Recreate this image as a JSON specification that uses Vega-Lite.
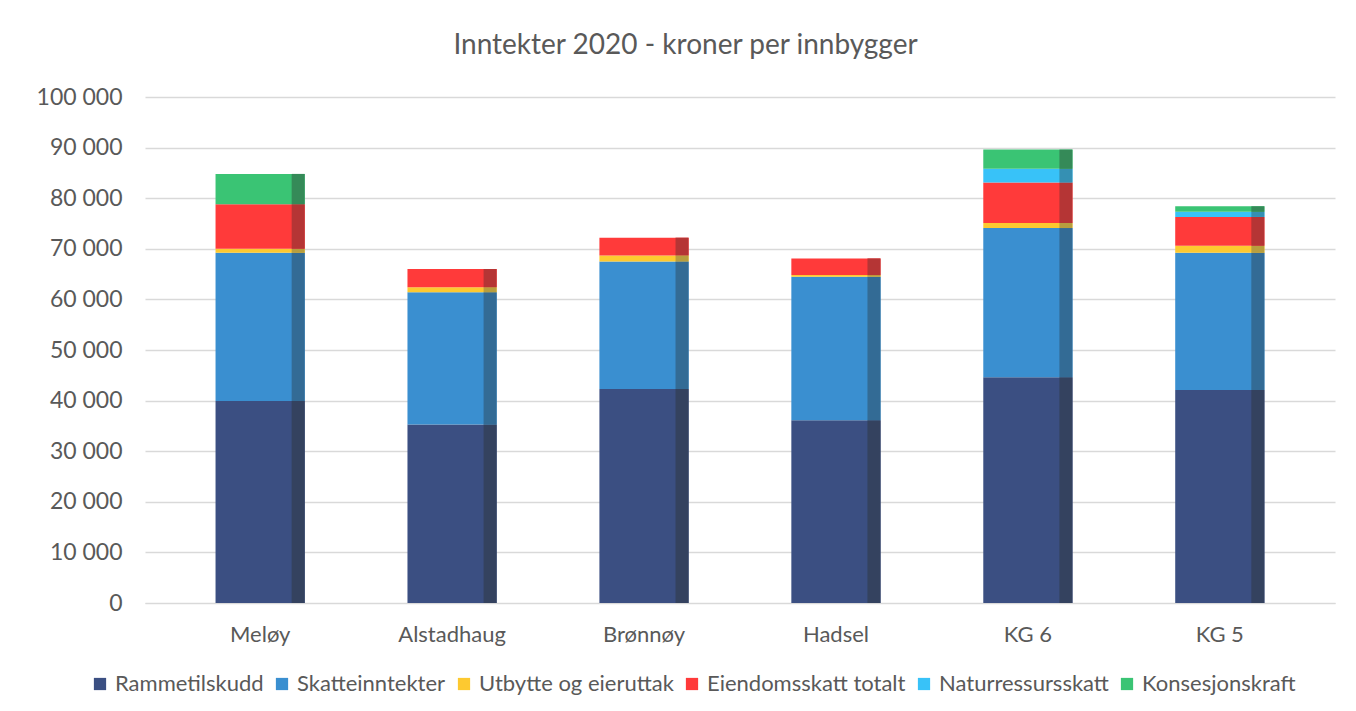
{
  "$schema": "https://vega.github.io/schema/vega-lite/v6.json",
  "width": 1356,
  "height": 711,
  "autosize": {"type": "fit", "contains": "padding"},
  "padding": {"left": 36, "right": 21, "top": 32, "bottom": 66},
  "background": "white",
  "title": {
    "text": "Inntekter 2020 -  kroner per innbygger",
    "font": "Lato",
    "fontSize": 28,
    "fontWeight": "normal",
    "color": "#595959",
    "anchor": "middle",
    "frame": "bounds",
    "offset": 26
  },
  "data": {
    "values": [
      {"kommune": "Meløy", "serie": "Rammetilskudd", "nr": 1, "verdi": 39900},
      {"kommune": "Meløy", "serie": "Skatteinntekter", "nr": 2, "verdi": 29300},
      {"kommune": "Meløy", "serie": "Utbytte og eieruttak", "nr": 3, "verdi": 800},
      {"kommune": "Meløy", "serie": "Eiendomsskatt totalt", "nr": 4, "verdi": 8800},
      {"kommune": "Meløy", "serie": "Naturressursskatt", "nr": 5, "verdi": 0},
      {"kommune": "Meløy", "serie": "Konsesjonskraft", "nr": 6, "verdi": 6000},
      {"kommune": "Alstadhaug", "serie": "Rammetilskudd", "nr": 1, "verdi": 35300},
      {"kommune": "Alstadhaug", "serie": "Skatteinntekter", "nr": 2, "verdi": 26100},
      {"kommune": "Alstadhaug", "serie": "Utbytte og eieruttak", "nr": 3, "verdi": 1000},
      {"kommune": "Alstadhaug", "serie": "Eiendomsskatt totalt", "nr": 4, "verdi": 3600},
      {"kommune": "Alstadhaug", "serie": "Naturressursskatt", "nr": 5, "verdi": 0},
      {"kommune": "Alstadhaug", "serie": "Konsesjonskraft", "nr": 6, "verdi": 0},
      {"kommune": "Brønnøy", "serie": "Rammetilskudd", "nr": 1, "verdi": 42300},
      {"kommune": "Brønnøy", "serie": "Skatteinntekter", "nr": 2, "verdi": 25200},
      {"kommune": "Brønnøy", "serie": "Utbytte og eieruttak", "nr": 3, "verdi": 1200},
      {"kommune": "Brønnøy", "serie": "Eiendomsskatt totalt", "nr": 4, "verdi": 3500},
      {"kommune": "Brønnøy", "serie": "Naturressursskatt", "nr": 5, "verdi": 0},
      {"kommune": "Brønnøy", "serie": "Konsesjonskraft", "nr": 6, "verdi": 0},
      {"kommune": "Hadsel", "serie": "Rammetilskudd", "nr": 1, "verdi": 36100},
      {"kommune": "Hadsel", "serie": "Skatteinntekter", "nr": 2, "verdi": 28400},
      {"kommune": "Hadsel", "serie": "Utbytte og eieruttak", "nr": 3, "verdi": 300},
      {"kommune": "Hadsel", "serie": "Eiendomsskatt totalt", "nr": 4, "verdi": 3300},
      {"kommune": "Hadsel", "serie": "Naturressursskatt", "nr": 5, "verdi": 0},
      {"kommune": "Hadsel", "serie": "Konsesjonskraft", "nr": 6, "verdi": 0},
      {"kommune": "KG 6", "serie": "Rammetilskudd", "nr": 1, "verdi": 44600},
      {"kommune": "KG 6", "serie": "Skatteinntekter", "nr": 2, "verdi": 29500},
      {"kommune": "KG 6", "serie": "Utbytte og eieruttak", "nr": 3, "verdi": 1000},
      {"kommune": "KG 6", "serie": "Eiendomsskatt totalt", "nr": 4, "verdi": 8000},
      {"kommune": "KG 6", "serie": "Naturressursskatt", "nr": 5, "verdi": 2700},
      {"kommune": "KG 6", "serie": "Konsesjonskraft", "nr": 6, "verdi": 3800},
      {"kommune": "KG 5", "serie": "Rammetilskudd", "nr": 1, "verdi": 42100},
      {"kommune": "KG 5", "serie": "Skatteinntekter", "nr": 2, "verdi": 27100},
      {"kommune": "KG 5", "serie": "Utbytte og eieruttak", "nr": 3, "verdi": 1400},
      {"kommune": "KG 5", "serie": "Eiendomsskatt totalt", "nr": 4, "verdi": 5700},
      {"kommune": "KG 5", "serie": "Naturressursskatt", "nr": 5, "verdi": 1000},
      {"kommune": "KG 5", "serie": "Konsesjonskraft", "nr": 6, "verdi": 1100}
    ]
  },
  "encoding": {
    "x": {
      "field": "kommune",
      "type": "nominal",
      "sort": ["Meløy", "Alstadhaug", "Brønnøy", "Hadsel", "KG 6", "KG 5"],
      "title": null,
      "scale": {"paddingInner": 0, "paddingOuter": 0.1},
      "axis": {
        "labelAngle": 0,
        "labelFont": "Lato",
        "labelFontSize": 22,
        "labelColor": "#595959",
        "labelPadding": 21,
        "ticks": false,
        "domainColor": "#d9d9d9",
        "grid": false
      }
    },
    "y": {
      "field": "verdi",
      "type": "quantitative",
      "aggregate": "sum",
      "stack": "zero",
      "title": null,
      "scale": {"domain": [0, 100000]},
      "axis": {
        "values": [0, 10000, 20000, 30000, 40000, 50000, 60000, 70000, 80000, 90000, 100000],
        "labelExpr": "replace(format(datum.value, ','), /,/g, ' ')",
        "labelFont": "Lato",
        "labelFontSize": 23,
        "labelColor": "#595959",
        "labelPadding": 23,
        "ticks": false,
        "domain": false,
        "gridColor": "#d9d9d9",
        "gridWidth": 1.5
      }
    },
    "order": {"field": "nr", "type": "quantitative", "sort": "ascending"}
  },
  "layer": [
    {
      "mark": {"type": "bar", "width": {"band": 0.465}},
      "encoding": {
        "color": {
          "field": "serie",
          "type": "nominal",
          "scale": {
            "domain": ["Rammetilskudd", "Skatteinntekter", "Utbytte og eieruttak", "Eiendomsskatt totalt", "Naturressursskatt", "Konsesjonskraft"],
            "range": ["#3b4f82", "#3a8fd0", "#fdc930", "#ff3a3a", "#38c2f8", "#3ac474"]
          },
          "legend": {
            "title": null,
            "orient": "none",
            "legendX": -56,
            "legendY": 576,
            "direction": "horizontal",
            "symbolType": "square",
            "symbolSize": 150,
            "symbolStrokeWidth": 0,
            "labelFont": "Lato",
            "labelFontSize": 22,
            "labelColor": "#595959",
            "labelLimit": 0,
            "columnPadding": 7,
            "labelOffset": 4
          }
        }
      }
    },
    {
      "mark": {"type": "bar", "width": 13, "xOffset": 38},
      "encoding": {
        "color": {
          "field": "serie",
          "type": "nominal",
          "scale": {
            "domain": ["Rammetilskudd", "Skatteinntekter", "Utbytte og eieruttak", "Eiendomsskatt totalt", "Naturressursskatt", "Konsesjonskraft"],
            "range": ["#34425f", "#336b95", "#b89e3e", "#b53535", "#3590b3", "#358a58"]
          },
          "legend": null
        }
      }
    }
  ],
  "resolve": {"scale": {"color": "independent"}},
  "config": {
    "view": {"stroke": null},
    "font": "Lato"
  }
}
